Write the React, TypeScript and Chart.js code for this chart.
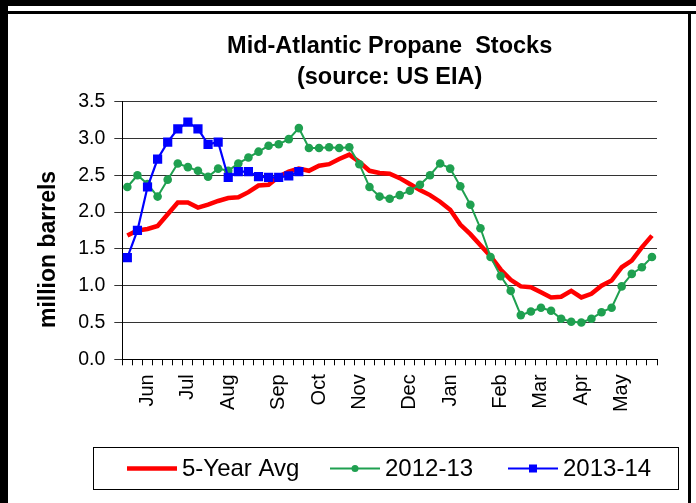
import React, { useEffect, useRef } from 'react';
import { Chart, registerables } from 'chart.js';

Chart.register(...registerables);

const FONT = '"Liberation Sans", Arial, sans-serif';

const TITLE_LINES = ['Mid-Atlantic Propane  Stocks', '(source: US EIA)'];
const Y_TITLE = 'million barrels';
const WEEK_COUNT = 53;
const MONTH_NAMES = ['Jun', 'Jul', 'Aug', 'Sep', 'Oct', 'Nov', 'Dec', 'Jan', 'Feb', 'Mar', 'Apr', 'May'];
const MONTH_WEEK_INDEX = [2, 6, 10, 15, 19, 23, 28, 32, 37, 41, 45, 49];
const Y_MIN = 0;
const Y_MAX = 3.5;
const Y_STEP = 0.5;

const SERIES_NAMES = ['5-Year Avg', '2012-13', '2013-14'];

const AVG_5YR = [
  1.68, 1.75, 1.77, 1.81, 1.97, 2.13, 2.13, 2.06, 2.10, 2.15,
  2.19, 2.20, 2.27, 2.36, 2.37, 2.48, 2.55, 2.59, 2.56, 2.63,
  2.65, 2.72, 2.78, 2.68, 2.56, 2.53, 2.52, 2.46, 2.38, 2.30,
  2.23, 2.14, 2.03, 1.83, 1.70, 1.55, 1.40, 1.22, 1.08, 0.99,
  0.98, 0.91, 0.84, 0.85, 0.93, 0.84, 0.89, 1.00, 1.07, 1.25,
  1.34, 1.52, 1.68,
];

const SEASON_2012_13 = [
  2.34, 2.50, 2.38, 2.21, 2.44, 2.66, 2.61, 2.56, 2.48, 2.59,
  2.56, 2.66, 2.74, 2.82, 2.90, 2.92, 2.99, 3.14, 2.87, 2.87,
  2.88, 2.87, 2.88, 2.65, 2.34, 2.21, 2.18, 2.23, 2.29, 2.37,
  2.50, 2.66, 2.59, 2.35, 2.10, 1.78, 1.39, 1.13, 0.93, 0.60,
  0.65, 0.70, 0.66, 0.55, 0.51, 0.50, 0.55, 0.64, 0.70, 0.99,
  1.16, 1.25, 1.39,
];

const SEASON_2013_14 = [
  1.38, 1.75, 2.34, 2.72, 2.95, 3.13, 3.22, 3.13, 2.92, 2.95,
  2.47, 2.55, 2.55, 2.48, 2.47, 2.47, 2.49, 2.55,
];

const COLOR_AVG = '#FF0000';
const COLOR_1213 = '#1FA050';
const COLOR_1314 = '#0000FF';

const WEEK_LABELS = Array.from({ length: WEEK_COUNT }, (_, i) => {
  const k = MONTH_WEEK_INDEX.indexOf(i);
  return k >= 0 ? MONTH_NAMES[k] : '';
});

const framePlugin = {
  id: 'frame',
  beforeDraw(chart: any) {
    const { ctx, width, height } = chart;
    ctx.save();
    ctx.fillStyle = '#fff';
    ctx.fillRect(0, 0, width, height);
    ctx.fillStyle = '#000';
    ctx.fillRect(0, 0, width, 6);
    ctx.fillRect(0, 11, width, 3);
    ctx.fillRect(0, 0, 8, height);
    ctx.fillRect(688, 11, 3, height - 11);
    ctx.restore();
  },
};

const yTitlePlugin = {
  id: 'yTitle',
  afterDraw(chart: any) {
    const { ctx } = chart;
    const y = chart.scales.y;
    ctx.save();
    ctx.translate(49, (y.top + y.bottom) / 2 + 19);
    ctx.rotate(-Math.PI / 2);
    ctx.font = `bold 23px ${FONT}`;
    ctx.fillStyle = '#000';
    ctx.textAlign = 'center';
    ctx.textBaseline = 'middle';
    ctx.fillText(Y_TITLE, 0, 0);
    ctx.restore();
  },
};

const boxLegendPlugin = {
  id: 'boxLegend',
  afterDraw(chart: any) {
    const { ctx } = chart;
    const bx = 93, by = 447, bw = 585, bh = 42;
    const starts = [127, 330, 508];
    const sampleLen = 50;
    ctx.save();
    ctx.strokeStyle = '#000';
    ctx.lineWidth = 1;
    ctx.strokeRect(bx + 0.5, by + 0.5, bw, bh);
    const cy = by + bh / 2 + 0.5;
    ctx.font = `24px ${FONT}`;
    ctx.textBaseline = 'middle';
    chart.data.datasets.forEach((ds: any, i: number) => {
      const x0 = starts[i];
      const x1 = x0 + sampleLen;
      ctx.strokeStyle = ds.borderColor;
      ctx.lineWidth = ds.borderWidth;
      ctx.beginPath();
      ctx.moveTo(x0, cy);
      ctx.lineTo(x1, cy);
      ctx.stroke();
      const mx = (x0 + x1) / 2;
      ctx.fillStyle = ds.backgroundColor;
      if (ds.pointStyle === 'circle' && ds.pointRadius > 0) {
        ctx.beginPath();
        ctx.arc(mx, cy, 3.5, 0, Math.PI * 2);
        ctx.fill();
      } else if (ds.pointStyle === 'rect' && ds.pointRadius > 0) {
        ctx.fillRect(mx - 4, cy - 4, 8, 8);
      }
      ctx.fillStyle = '#000';
      ctx.fillText(ds.label, x1 + 5, cy + 1);
    });
    ctx.restore();
  },
};

export default function App() {
  const canvasRef = useRef<HTMLCanvasElement | null>(null);

  useEffect(() => {
    const canvas = canvasRef.current;
    if (!canvas) return;
    const chart = new Chart(canvas, {
      type: 'line',
      data: {
        labels: WEEK_LABELS,
        datasets: [
          {
            label: SERIES_NAMES[0],
            data: AVG_5YR,
            borderColor: COLOR_AVG,
            backgroundColor: COLOR_AVG,
            borderWidth: 4.5,
            pointRadius: 0,
            pointStyle: false as any,
            tension: 0,
            order: 3,
          },
          {
            label: SERIES_NAMES[1],
            data: SEASON_2012_13,
            borderColor: COLOR_1213,
            backgroundColor: COLOR_1213,
            borderWidth: 2,
            pointRadius: 4.3,
            pointBorderWidth: 0,
            pointStyle: 'circle',
            tension: 0,
            order: 2,
          },
          {
            label: SERIES_NAMES[2],
            data: SEASON_2013_14,
            borderColor: COLOR_1314,
            backgroundColor: COLOR_1314,
            borderWidth: 2.2,
            pointRadius: 6.5,
            pointBorderWidth: 0,
            pointStyle: 'rect',
            tension: 0,
            order: 1,
          },
        ],
      },
      options: {
        responsive: false,
        animation: false,
        events: [],
        layout: { padding: { left: 10, right: 39, top: 0, bottom: 60 } },
        plugins: {
          legend: { display: false },
          tooltip: { enabled: false },
          title: {
            display: true,
            text: TITLE_LINES,
            fullSize: false,
            color: '#000',
            font: { family: FONT, size: 23.5, weight: 'bold', lineHeight: 1.3 },
            padding: { top: 31.5, bottom: 9 },
          },
        },
        scales: {
          x: {
            type: 'category',
            offset: true,
            grid: {
              offset: true,
              drawOnChartArea: false,
              drawTicks: true,
              tickLength: 6,
              color: '#000',
              lineWidth: 1,
            },
            border: { color: '#000', width: 1 },
            ticks: {
              autoSkip: false,
              maxRotation: 90,
              minRotation: 90,
              color: '#000',
              font: { family: FONT, size: 20 },
              padding: 9,
            },
            afterFit(s: any) {
              s.height = 83.7;
            },
          },
          y: {
            min: Y_MIN,
            max: Y_MAX,
            ticks: {
              stepSize: Y_STEP,
              callback: (v: any) => Number(v).toFixed(1),
              color: '#000',
              font: { family: FONT, size: 19.5 },
              padding: 9,
            },
            grid: { color: '#333', lineWidth: 1, tickLength: 8 },
            border: { color: '#000', width: 1 },
            afterFit(s: any) {
              s.width = 112.3;
            },
          },
        },
      },
      plugins: [framePlugin, yTitlePlugin, boxLegendPlugin],
    });
    return () => chart.destroy();
  }, []);

  return (
    <div style={{ position: 'fixed', left: 0, top: 0, width: 696, height: 503, background: '#fff' }}>
      <canvas ref={canvasRef} width={696} height={503} style={{ display: 'block', width: 696, height: 503 }} />
    </div>
  );
}
